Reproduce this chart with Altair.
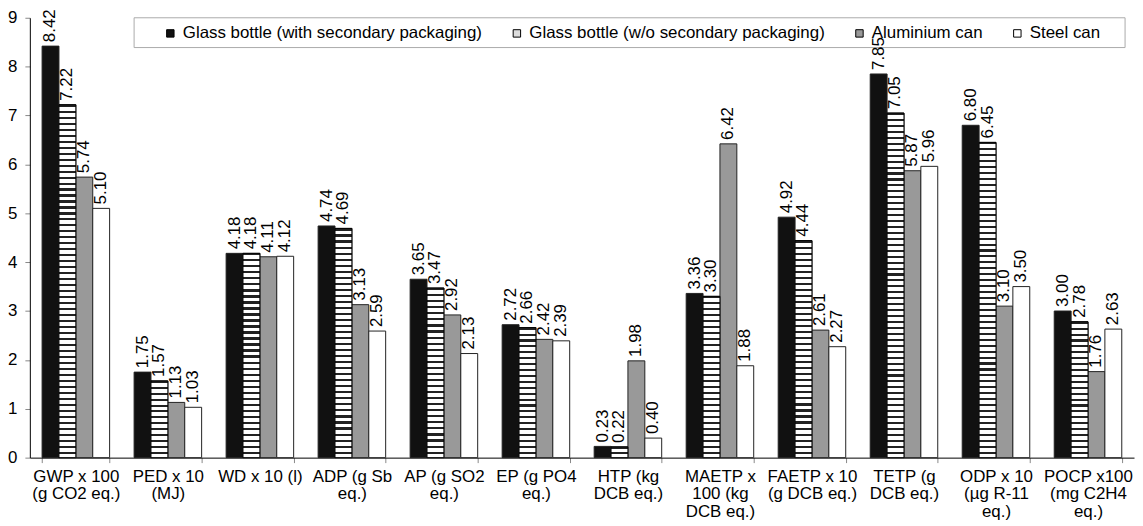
import altair as alt
import pandas as pd

categories = [
    "GWP x 100|(g CO2 eq.)", "PED x 10|(MJ)", "WD x 10 (l)", "ADP (g Sb|eq.)",
    "AP (g SO2|eq.)", "EP (g PO4|eq.)", "HTP (kg|DCB eq.)", "MAETP x|100 (kg|DCB eq.)",
    "FAETP x 10|(g DCB eq.)", "TETP (g|DCB eq.)", "ODP x 10|(µg R-11|eq.)", "POCP x100|(mg C2H4|eq.)",
]
series = [
    "Glass bottle (with secondary packaging)",
    "Glass bottle (w/o secondary packaging)",
    "Aluminium can",
    "Steel can",
]
glass_with = [8.42, 1.75, 4.18, 4.74, 3.65, 2.72, 0.23, 3.36, 4.92, 7.85, 6.80, 3.00]
glass_wo = [7.22, 1.57, 4.18, 4.69, 3.47, 2.66, 0.22, 3.30, 4.44, 7.05, 6.45, 2.78]
aluminium = [5.74, 1.13, 4.11, 3.13, 2.92, 2.42, 1.98, 6.42, 2.61, 5.87, 3.10, 1.76]
steel = [5.10, 1.03, 4.12, 2.59, 2.13, 2.39, 0.40, 1.88, 2.27, 5.96, 3.50, 2.63]
fills = ["#111111", "#dddddd", "#999999", "#ffffff"]

rows = []
for s, vals in zip(series, [glass_with, glass_wo, aluminium, steel]):
    for c, v in zip(categories, vals):
        rows.append({"category": c, "series": s, "value": v})
df = pd.DataFrame(rows)

W, H = 1112, 443
YMAX = 9
FONT = "Liberation Sans"

x_enc = alt.X(
    "category:N",
    sort=None,
    scale=alt.Scale(domain=categories, paddingInner=0.266, paddingOuter=0.133),
    axis=alt.Axis(
        title=None, labelAngle=0, labelExpr="split(datum.label, '|')",
        tickBand="extent", tickSize=5, labelPadding=6, labelLineHeight=17.5,
        labelBaseline="top", labelFontSize=17, labelLimit=0,
    ),
)
xo_enc = alt.XOffset("series:N", sort=None,
                     scale=alt.Scale(domain=series, paddingInner=0, paddingOuter=0))
y_enc = alt.Y(
    "value:Q",
    scale=alt.Scale(domain=[0, YMAX], nice=False, zero=True),
    axis=alt.Axis(title=None, values=list(range(10)), tickSize=5, labelPadding=8,
                  labelFontSize=17, grid=False),
)

box = alt.Chart(pd.DataFrame({"a": [0]})).mark_rect(
    fill="white", stroke="#aaaaaa", strokeWidth=1
).encode(x=alt.value(105), x2=alt.value(1103), y=alt.value(0), y2=alt.value(30))

bars = alt.Chart(df).mark_bar(stroke="#222222", strokeWidth=1).encode(
    x=x_enc,
    xOffset=xo_enc,
    y=y_enc,
    fill=alt.Fill(
        "series:N", sort=None,
        scale=alt.Scale(domain=series, range=fills),
        legend=alt.Legend(
            title=None, orient="none", legendX=133, legendY=7, direction="horizontal",
            symbolType="square", symbolSize=56, symbolStrokeColor="#000000",
            symbolStrokeWidth=1, labelFontSize=17, labelFont=FONT, labelColor="#000000",
            columnPadding=26, labelOffset=4, padding=0, labelLimit=0,
        ),
    ),
)

# striped overlay to imitate the hatched fill of the second series
overlays = []
for c, v in zip(categories, glass_wo):
    h = v / YMAX * H
    n = max(1, int(round(h / 6.0)))
    stops = []
    for i in range(n):
        a = i / n
        b = (i + 0.35) / n
        e = (i + 1) / n
        stops += [
            {"offset": a, "color": "#222222"},
            {"offset": b, "color": "#222222"},
            {"offset": b, "color": "#ffffff"},
            {"offset": e, "color": "#ffffff"},
        ]
    grad = {"gradient": "linear", "x1": 0, "x2": 0, "y1": 0, "y2": 1, "stops": stops}
    ov = alt.Chart(df).transform_filter(
        (alt.datum.series == series[1]) & (alt.datum.category == c)
    ).mark_bar(fill=grad, stroke="#000000", strokeWidth=1).encode(
        x=x_enc, xOffset=xo_enc, y=y_enc
    )
    overlays.append(ov)

labels = alt.Chart(df).mark_text(
    angle=270, align="left", baseline="middle", dx=4, fontSize=17, font=FONT, color="#000000"
).encode(
    x=x_enc, xOffset=xo_enc, y=y_enc, text=alt.Text("value:Q", format=".2f")
)

chart = alt.layer(box, bars, *overlays, labels).properties(
    width=W, height=H,
    autosize=alt.AutoSizeParams(type="none"),
    padding={"left": 22, "top": 8, "right": 1, "bottom": 66},
).configure(font=FONT).configure_axis(
    domainColor="#000000", tickColor="#888888", labelColor="#000000", labelFont=FONT,
    grid=False,
).configure_view(stroke=None)

chart.save("out.html", embed_options={"renderer": "svg", "actions": False})
